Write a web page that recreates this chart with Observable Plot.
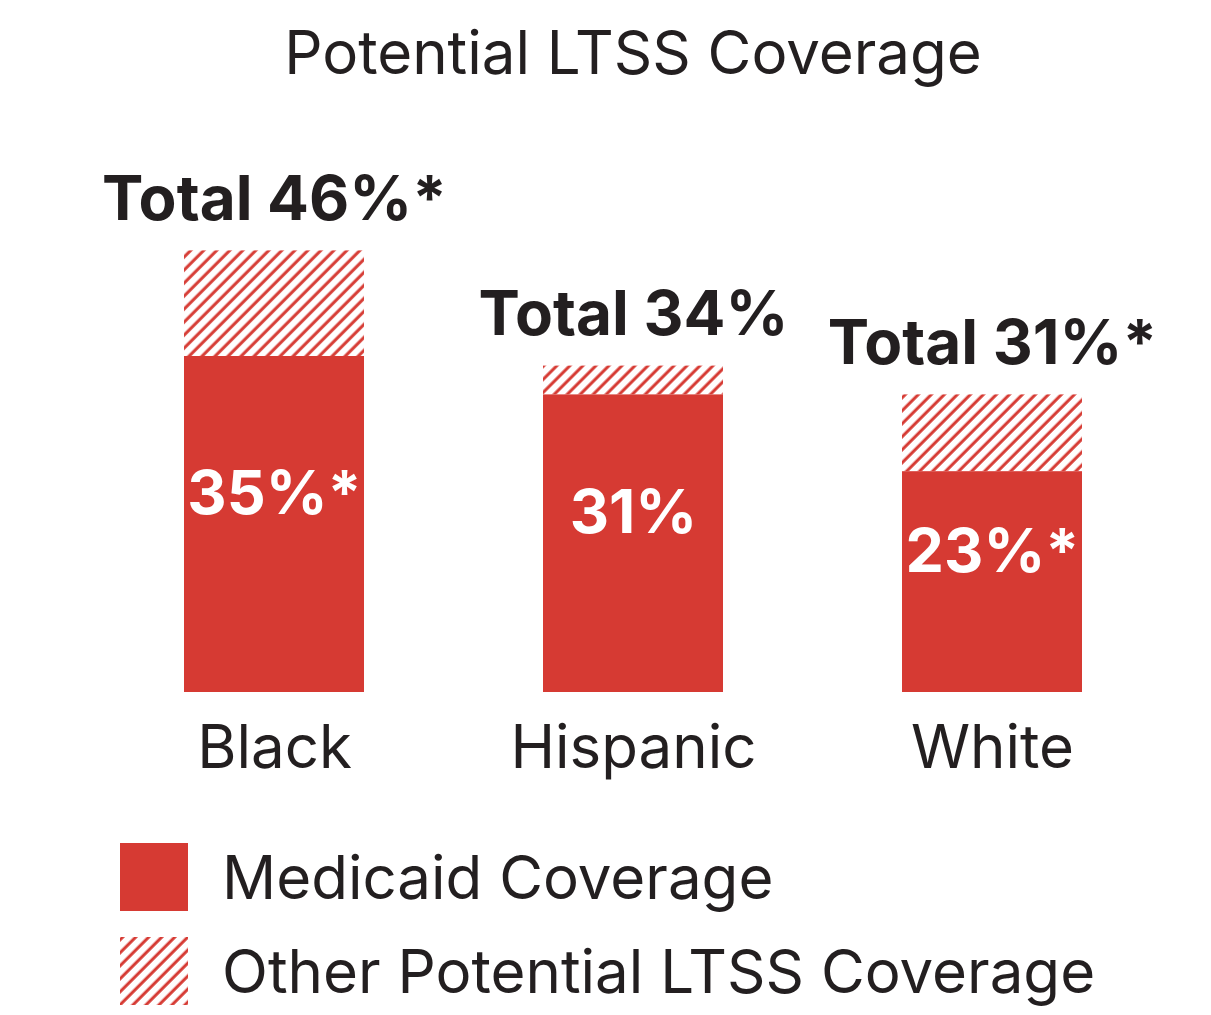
<!DOCTYPE html>
<html><head><meta charset="utf-8">
<script src="https://cdn.jsdelivr.net/npm/d3@7"></script>
<script src="https://cdn.jsdelivr.net/npm/@observablehq/plot@0.6"></script>
<style>
body{margin:0;background:#fff;font-family:Inter,"Noto Sans",sans-serif;color:#231f20;width:1211px;height:1015px;position:relative;overflow:hidden}
#title{position:absolute;left:633px;top:52px;transform:translate(-50%,-50%);font-size:60px;white-space:nowrap;line-height:1}
#chart{position:absolute;left:0;top:100px}
#legend{position:absolute;left:120px;top:843px}
.item{display:flex;align-items:center;height:68px;margin-bottom:26px;font-size:60px;white-space:nowrap}
.item svg{margin-right:34px;flex:none}
</style></head><body>
<div id="title">Potential LTSS Coverage</div>
<div id="chart"></div>
<div id="legend"></div>
<script>
const categories = ["Black", "Hispanic", "White"];
const medicaidValues = [35, 31, 23];
const totalValues = [46, 34, 31];
const medicaidLabels = ["35%*", "31%", "23%*"];
const totalLabels = ["Total 46%*", "Total 34%", "Total 31%*"];
const seriesNames = ["Medicaid Coverage", "Other Potential LTSS Coverage"];

const RED = "#d63a33";
const DARK = "#231f20";

const rows = categories.map((c, i) => ({
  cat: c, medicaid: medicaidValues[i], total: totalValues[i],
  mLabel: medicaidLabels[i], tLabel: totalLabels[i]
}));

const chart = Plot.plot({
  width: 1211,
  height: 700,
  marginTop: 112,
  marginBottom: 108,
  marginLeft: 94,
  marginRight: 39,
  style: {fontFamily: "Inter, 'Noto Sans', sans-serif", background: "transparent"},
  x: {domain: categories, paddingInner: 0.5, paddingOuter: 0.25, axis: null},
  y: {domain: [0, 50], axis: null},
  marks: [
    Plot.barY(rows, {x: "cat", y1: "medicaid", y2: "total", fill: "url(#hatch)"}),
    Plot.barY(rows, {x: "cat", y1: 0, y2: "medicaid", fill: RED}),
    Plot.text(rows, {x: "cat", y: "total", text: "tLabel", dy: -31, lineAnchor: "bottom", fontSize: 62, fontWeight: 700, fill: DARK}),
    Plot.text(rows, {x: "cat", y: d => d.medicaid / 2, text: "mLabel", dy: -30, fontSize: 61, fontWeight: 700, fill: "white"}),
    Plot.text(rows, {x: "cat", y: 0, text: "cat", dy: 56, fontSize: 60, fill: DARK})
  ]
});

const defs = `<defs><pattern id="hatch" patternUnits="userSpaceOnUse" width="9.2" height="9.2" patternTransform="rotate(45)">
<rect width="9.2" height="9.2" fill="white"/><line x1="2" y1="0" x2="2" y2="9.2" stroke="${RED}" stroke-width="3"/></pattern></defs>`;
chart.insertAdjacentHTML("afterbegin", defs);
document.getElementById("chart").appendChild(chart);

const legend = document.getElementById("legend");
seriesNames.forEach((name, i) => {
  const fill = i === 0 ? RED : "url(#hatchL)";
  const pat = i === 0 ? "" : `<defs><pattern id="hatchL" patternUnits="userSpaceOnUse" width="9.2" height="9.2" patternTransform="rotate(45)">
<rect width="9.2" height="9.2" fill="white"/><line x1="2" y1="0" x2="2" y2="9.2" stroke="${RED}" stroke-width="3"/></pattern></defs>`;
  legend.insertAdjacentHTML("beforeend",
    `<div class="item"><svg width="68" height="68">${pat}<rect width="68" height="68" fill="${fill}"/></svg><span>${name}</span></div>`);
});
</script>
</body></html>
